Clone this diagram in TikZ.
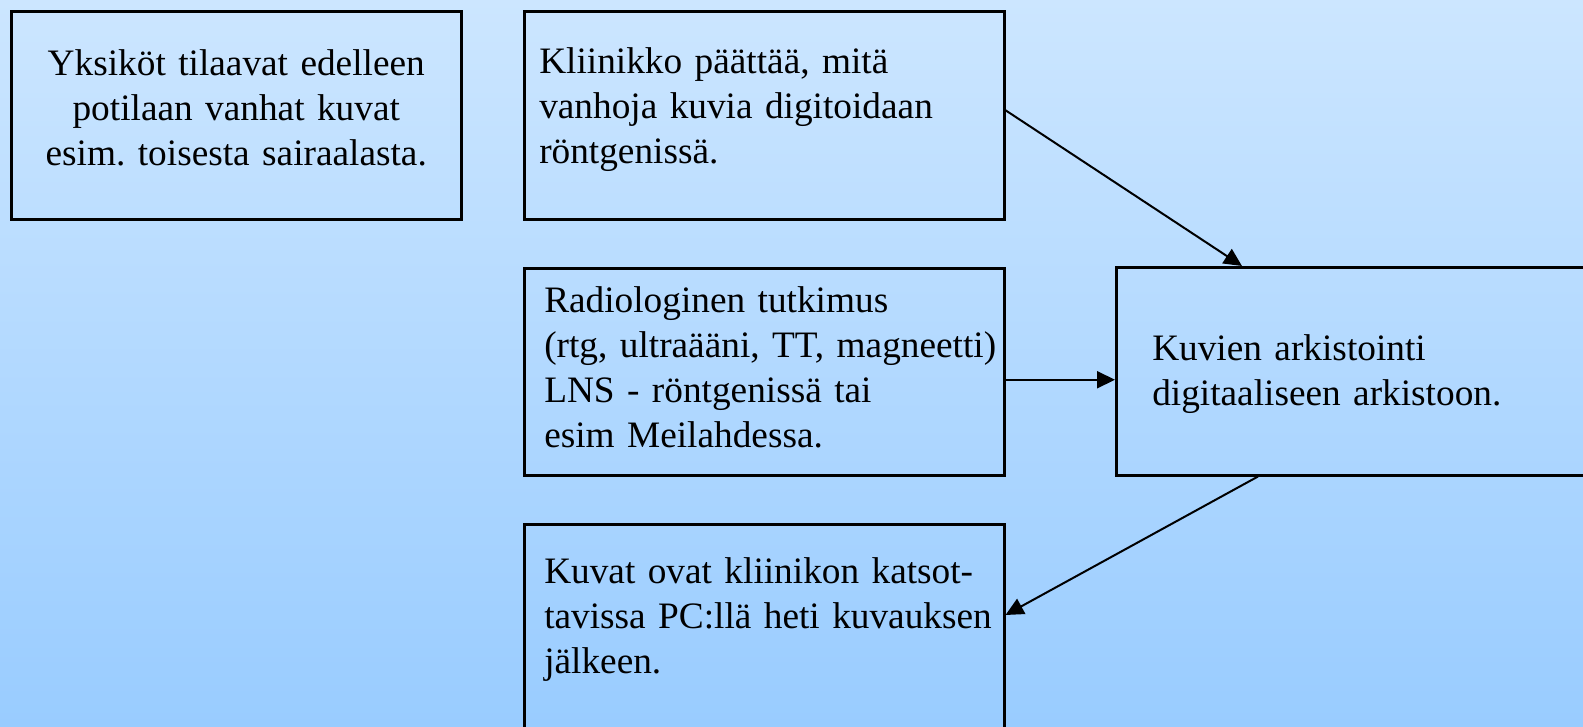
\documentclass[tikz,border=0pt]{standalone}
\usepackage{fontspec}
\setmainfont{Liberation Serif}
\usetikzlibrary{arrows.meta}
\definecolor{bgtop}{RGB}{204,230,255}
\definecolor{bgbottom}{RGB}{153,204,255}
\DeclareRobustCommand\boxfont{\fontsize{37.3}{45}\selectfont\frenchspacing\spaceskip=5.5pt\relax}
\tikzset{
  box/.style={draw, line width=2.5pt, anchor=north west, inner ysep=0pt, font=\boxfont},
  arr/.style={line width=2pt, -{Triangle[length=18pt,width=17pt]}}
}
\begin{document}
\begin{tikzpicture}[x=1pt,y=-1pt]
\clip (0,0) rectangle (1583,726);
\shade[top color=bgtop, bottom color=bgbottom] (0,0) rectangle (1583,726);

\node[box, inner xsep=15pt, text width=420pt, align=center, text height=64pt, text depth=144pt]
  (yksikot) at (10,10) {Yksiköt tilaavat edelleen\\potilaan vanhat kuvat\\esim. toisesta sairaalasta.};
\node[box, inner xsep=15pt, text width=450pt, align=left, text height=62pt, text depth=146pt]
  (kliinikko) at (523,10) {Kliinikko päättää, mitä\\vanhoja kuvia digitoidaan\\röntgenissä.};
\node[box, inner xsep=20pt, text width=440pt, align=left, text height=44pt, text depth=163pt]
  (tutkimus) at (523,267) {Radiologinen tutkimus\\\mbox{(rtg, ultraääni, TT, magneetti)}\\LNS - röntgenissä tai\\esim Meilahdessa.};
\node[box, inner xsep=36pt, text width=440pt, align=left, text height=93pt, text depth=115pt]
  (arkisto) at (1115,266) {Kuvien arkistointi\\digitaaliseen arkistoon.};
\node[box, inner xsep=20pt, text width=440pt, align=left, text height=59pt, text depth=170pt]
  (katselu) at (523,523) {Kuvat ovat kliinikon katsot-\\\mbox{tavissa PC:llä heti kuvauksen}\\jälkeen.};

\coordinate (tutkout) at ([yshift=-8pt]tutkimus.east);
\draw[arr] ([yshift=5pt]kliinikko.east) -- ([xshift=127pt]arkisto.north west);
\draw[arr] (tutkout) -- (tutkout -| arkisto.west);
\draw[arr] ([xshift=143pt]arkisto.south west) -- ([yshift=-92pt]katselu.north east);
\end{tikzpicture}
\end{document}
